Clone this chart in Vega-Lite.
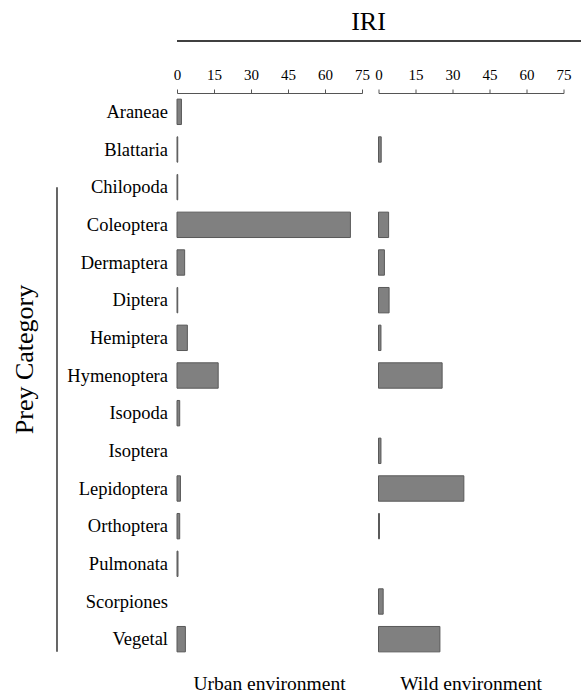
{
  "$schema": "https://vega.github.io/schema/vega-lite/v6.json",
  "padding": {"left": 11, "top": 9, "right": 0, "bottom": 0},
  "config": {"font": "Liberation Serif", "view": {"stroke": null}},
  "datasets": {
    "iri": [
      {"category": "Araneae", "env": "Urban environment", "iri": 1.8},
      {"category": "Blattaria", "env": "Urban environment", "iri": 0.3},
      {"category": "Chilopoda", "env": "Urban environment", "iri": 0.3},
      {"category": "Coleoptera", "env": "Urban environment", "iri": 70.3},
      {"category": "Dermaptera", "env": "Urban environment", "iri": 3.1},
      {"category": "Diptera", "env": "Urban environment", "iri": 0.3},
      {"category": "Hemiptera", "env": "Urban environment", "iri": 4.2},
      {"category": "Hymenoptera", "env": "Urban environment", "iri": 16.7},
      {"category": "Isopoda", "env": "Urban environment", "iri": 1.1},
      {"category": "Isoptera", "env": "Urban environment", "iri": 0},
      {"category": "Lepidoptera", "env": "Urban environment", "iri": 1.4},
      {"category": "Orthoptera", "env": "Urban environment", "iri": 1.1},
      {"category": "Pulmonata", "env": "Urban environment", "iri": 0.4},
      {"category": "Scorpiones", "env": "Urban environment", "iri": 0},
      {"category": "Vegetal", "env": "Urban environment", "iri": 3.4},
      {"category": "Araneae", "env": "Wild environment", "iri": 0},
      {"category": "Blattaria", "env": "Wild environment", "iri": 1.1},
      {"category": "Chilopoda", "env": "Wild environment", "iri": 0},
      {"category": "Coleoptera", "env": "Wild environment", "iri": 4.1},
      {"category": "Dermaptera", "env": "Wild environment", "iri": 2.4},
      {"category": "Diptera", "env": "Wild environment", "iri": 4.3},
      {"category": "Hemiptera", "env": "Wild environment", "iri": 1.0},
      {"category": "Hymenoptera", "env": "Wild environment", "iri": 25.8},
      {"category": "Isopoda", "env": "Wild environment", "iri": 0},
      {"category": "Isoptera", "env": "Wild environment", "iri": 1.0},
      {"category": "Lepidoptera", "env": "Wild environment", "iri": 34.6},
      {"category": "Orthoptera", "env": "Wild environment", "iri": 0.4},
      {"category": "Pulmonata", "env": "Wild environment", "iri": 0},
      {"category": "Scorpiones", "env": "Wild environment", "iri": 1.9},
      {"category": "Vegetal", "env": "Wild environment", "iri": 24.9}
    ]
  },
  "bounds": "flush",
  "spacing": 42,
  "vconcat": [
    {
      "width": 405,
      "height": 0,
      "title": {"text": "IRI", "fontSize": 26, "fontWeight": "normal", "color": "#000", "anchor": "middle", "dx": -11, "offset": -25, "baseline": "alphabetic"},
      "data": {"values": [{"line": "IRI"}]},
      "mark": {"type": "rule", "color": "#000", "strokeWidth": 1.5},
      "encoding": {
        "x": {"datum": 0, "type": "quantitative", "scale": {"domain": [0, 1]}, "axis": null},
        "x2": {"datum": 1}
      }
    },
    {
      "bounds": "flush",
      "spacing": 16.5,
      "hconcat": [
        {
          "width": 185,
          "height": 565,
          "title": {"text": "Urban environment", "orient": "bottom", "fontSize": 19.5, "fontWeight": "normal", "color": "#000", "anchor": "middle", "baseline": "alphabetic", "offset": 32},
          "layer": [
            {
              "data": {"name": "iri"},
              "transform": [{"filter": "datum.env === 'Urban environment' && datum.iri > 0"}],
              "mark": {"type": "bar", "fill": "#808080", "stroke": "#595959", "strokeWidth": 1},
              "encoding": {
                "y": {
                  "field": "category", "type": "nominal", "sort": null,
                  "scale": {"domain": ["Araneae", "Blattaria", "Chilopoda", "Coleoptera", "Dermaptera", "Diptera", "Hemiptera", "Hymenoptera", "Isopoda", "Isoptera", "Lepidoptera", "Orthoptera", "Pulmonata", "Scorpiones", "Vegetal"], "paddingInner": 0.326, "paddingOuter": 0.163},
                  "axis": {"title": "Prey Category", "titleFontSize": 26, "titleFontWeight": "normal", "titleColor": "#000", "titleX": -145, "titleY": 266, "titleBaseline": "alphabetic", "titleAngle": -90, "titleAlign": "center", "labelFontSize": 18.5, "labelColor": "#000", "labelPadding": 9.5, "ticks": false, "tickSize": 0, "domain": false, "labelLimit": 300}
                },
                "x": {
                  "field": "iri", "type": "quantitative",
                  "scale": {"domain": [0, 75], "nice": false},
                  "axis": {"orient": "top", "values": [0, 15, 30, 45, 60, 75], "title": null, "grid": false, "labelFontSize": 15, "labelColor": "#000", "tickSize": 4, "labelPadding": 6.5, "domainColor": "#555", "tickColor": "#555", "labelFlush": false, "labelOverlap": false}
                }
              }
            },
            {
              "data": {"values": [{"from": "Chilopoda", "to": "Vegetal"}]},
              "mark": {"type": "rule", "color": "#000", "strokeWidth": 1.2},
              "encoding": {
                "x": {"datum": -48.65, "type": "quantitative",
                  "axis": {"orient": "top", "values": [0, 15, 30, 45, 60, 75], "title": null, "grid": false, "labelFontSize": 15, "labelColor": "#000", "tickSize": 4, "labelPadding": 6.5, "domainColor": "#555", "tickColor": "#555", "labelFlush": false, "labelOverlap": false}},
                "y": {"datum": "Chilopoda", "type": "nominal"},
                "y2": {"datum": "Vegetal", "bandPosition": 1}
              }
            }
          ]
        },
        {
          "width": 185,
          "height": 565,
          "title": {"text": "Wild environment", "orient": "bottom", "fontSize": 19.5, "fontWeight": "normal", "color": "#000", "anchor": "middle", "baseline": "alphabetic", "offset": 32},
          "data": {"name": "iri"},
          "transform": [{"filter": "datum.env === 'Wild environment' && datum.iri > 0"}],
          "mark": {"type": "bar", "fill": "#808080", "stroke": "#595959", "strokeWidth": 1},
          "encoding": {
            "y": {
              "field": "category", "type": "nominal", "sort": null,
              "scale": {"domain": ["Araneae", "Blattaria", "Chilopoda", "Coleoptera", "Dermaptera", "Diptera", "Hemiptera", "Hymenoptera", "Isopoda", "Isoptera", "Lepidoptera", "Orthoptera", "Pulmonata", "Scorpiones", "Vegetal"], "paddingInner": 0.326, "paddingOuter": 0.163},
              "axis": null
            },
            "x": {
              "field": "iri", "type": "quantitative",
              "scale": {"domain": [0, 75], "nice": false},
              "axis": {"orient": "top", "values": [0, 15, 30, 45, 60, 75], "title": null, "grid": false, "labelFontSize": 15, "labelColor": "#000", "tickSize": 4, "labelPadding": 6.5, "domainColor": "#555", "tickColor": "#555", "labelFlush": false, "labelOverlap": false}
            }
          }
        }
      ]
    }
  ]
}
